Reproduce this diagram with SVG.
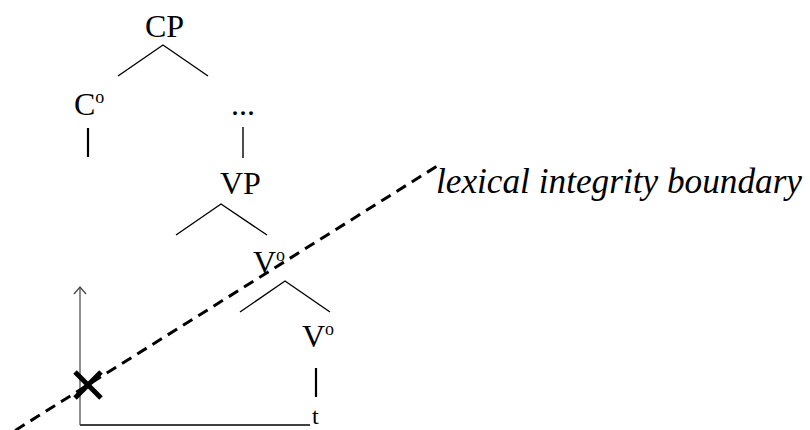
<svg xmlns="http://www.w3.org/2000/svg" width="810" height="430" viewBox="0 0 810 430">
<style>
.lbl{font-family:"Liberation Serif","Times New Roman",serif;font-size:32px;fill:#000}
.sup{font-size:18px}
.edge{stroke:#000;stroke-width:1.4;fill:none}
.bar{stroke:#000;stroke-width:2.2;fill:none}
.bnd{font-family:"Liberation Serif","Times New Roman",serif;font-style:italic;font-size:35px;fill:#000}
</style>
<rect width="810" height="430" fill="#fff"/>
<g id="connectors">
  <path class="edge" d="M118,76 L163,45 L208,76"/>
  <path class="edge" d="M176,235 L221,204 L267,235"/>
  <path class="edge" d="M240,312 L285,281 L330,312"/>
  <line class="bar" x1="88" y1="128" x2="88" y2="157"/>
  <line class="edge" x1="243" y1="127" x2="243" y2="158"/>
  <line class="bar" x1="316" y1="368" x2="316" y2="397"/>
  <line class="edge" x1="80" y1="425" x2="310" y2="425"/>
  <line x1="80" y1="425" x2="80" y2="288" stroke="#444" stroke-width="1.2"/>
  <path d="M74,294 L80,287 L86,294" stroke="#444" stroke-width="1.2" fill="none"/>
</g>
<g id="CP"><text class="lbl" x="145" y="37">CP</text></g>
<g id="C0"><text class="lbl" x="74" y="115">C<tspan class="sup" dy="-12">o</tspan></text></g>
<g id="dots"><text class="lbl" x="231" y="115">...</text></g>
<g id="VP"><text class="lbl" x="220" y="194">VP</text></g>
<g id="V0a"><text class="lbl" x="253" y="273">V<tspan class="sup" dy="-12">o</tspan></text></g>
<g id="V0b"><text class="lbl" x="302" y="347">V<tspan class="sup" dy="-12">o</tspan></text></g>
<g id="t"><text class="lbl" x="312" y="424" style="font-size:24px">t</text></g>
<g id="boundary">
  <line x1="0" y1="440" x2="442" y2="163" stroke="#000" stroke-width="3" stroke-dasharray="11 7"/>
  <text class="bnd" x="436" y="193" textLength="366" lengthAdjust="spacingAndGlyphs">lexical integrity boundary</text>
</g>
<g id="cross" stroke="#000" stroke-width="5">
  <line x1="75" y1="372" x2="101" y2="398"/>
  <line x1="101" y1="372" x2="75" y2="398"/>
</g>
</svg>
